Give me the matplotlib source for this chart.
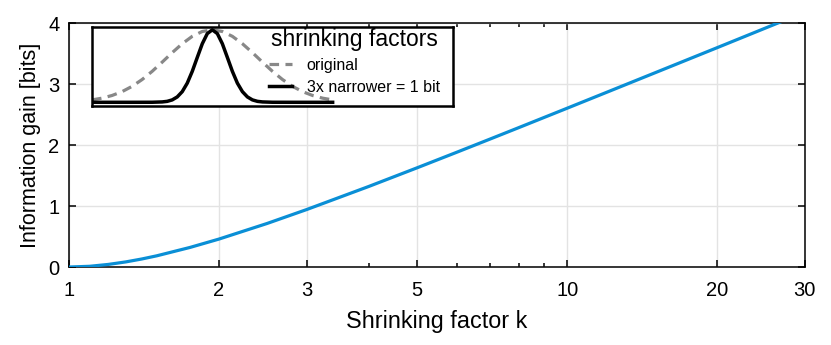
import matplotlib
matplotlib.use('Agg')
import matplotlib.pyplot as plt
from matplotlib.ticker import FixedLocator, NullFormatter

# Main curve: information gain vs shrinking factor
shrink_k = [1, 1.1, 1.2, 1.3, 1.4, 1.5, 1.75, 2, 2.5, 3, 4, 5, 6, 7, 8,
            10, 12, 15, 20, 25, 30]
gain_bits = [0.0, 0.012, 0.043, 0.084, 0.132, 0.184, 0.322, 0.459, 0.716,
             0.944, 1.324, 1.630, 1.884, 2.101, 2.290, 2.608, 2.869, 3.189,
             3.602, 3.924, 4.186]

x_ticks = [1, 2, 3, 5, 10, 20, 30]
x_minor = [4, 6, 7, 8, 9]
y_ticks = [0, 1, 2, 3, 4]

# Inset curves: original bell and 3x narrower bell
bell_x = [-3, -2.75, -2.5, -2.25, -2, -1.75, -1.5, -1.25, -1, -0.75, -0.5,
          -0.25, 0, 0.25, 0.5, 0.75, 1, 1.25, 1.5, 1.75, 2, 2.25, 2.5, 2.75, 3]
orig_y = [0.033, 0.057, 0.094, 0.147, 0.220, 0.314, 0.427, 0.554, 0.685,
          0.808, 0.910, 0.977, 1.0, 0.977, 0.910, 0.808, 0.685, 0.554, 0.427,
          0.314, 0.220, 0.147, 0.094, 0.057, 0.033]
narrow_x = [-3, -2.5, -2, -1.5, -1.25, -1.125, -1, -0.875, -0.75, -0.625,
            -0.5, -0.375, -0.25, -0.125, 0, 0.125, 0.25, 0.375, 0.5, 0.625,
            0.75, 0.875, 1, 1.125, 1.25, 1.5, 2, 2.5, 3]
narrow_y = [0, 0, 0, 0.0005, 0.005, 0.013, 0.033, 0.074, 0.147, 0.264,
            0.427, 0.619, 0.808, 0.948, 1.0, 0.948, 0.808, 0.619, 0.427,
            0.264, 0.147, 0.074, 0.033, 0.013, 0.005, 0.0005, 0, 0, 0]

plt.rcParams['font.family'] = ['Liberation Sans', 'DejaVu Sans']

fig = plt.figure(figsize=(8.31, 3.45), dpi=100)
ax = fig.add_axes([0.083, 0.226, 0.8855, 0.706])

ax.plot(shrink_k, gain_bits, color='#0a8fd6', lw=2.3, zorder=3)
ax.set_xscale('log')
ax.set_xlim(1, 30)
ax.set_ylim(0, 4)
ax.xaxis.set_major_locator(FixedLocator(x_ticks))
ax.xaxis.set_minor_locator(FixedLocator(x_minor))
ax.xaxis.set_minor_formatter(NullFormatter())
ax.set_xticklabels([str(t) for t in x_ticks])
ax.set_yticks(y_ticks)
ax.grid(True, which='major', color='#e3e3e3', lw=1)
ax.set_axisbelow(True)
ax.tick_params(which='both', direction='in', top=True, right=True,
               labelsize=14.5, width=1.1)
ax.tick_params(axis='x', which='both', pad=10)
ax.tick_params(axis='y', which='both', pad=7)
ax.tick_params(which='major', length=5)
ax.tick_params(which='minor', length=3)
for s in ax.spines.values():
    s.set_linewidth(1.1)
ax.set_xlabel('Shrinking factor k', fontsize=16.8, labelpad=7)
ax.set_ylabel('Information gain [bits]', fontsize=15.5, labelpad=5)

# inset with the two bells
ins = fig.add_axes([0.1107, 0.693, 0.4344, 0.229])
ins.plot(bell_x, orig_y, color='#888888', ls='--', lw=2.3, dashes=(3, 2),
         label='original')
ins.plot(narrow_x, narrow_y, color='black', lw=2.5,
         label='3x narrower = 1 bit')
ins.set_xlim(-3, 6)
ins.set_ylim(-0.05, 1.04)
ins.set_xticks([])
ins.set_yticks([])
for s in ins.spines.values():
    s.set_linewidth(1.8)
leg = ins.legend(loc='upper right', bbox_to_anchor=(0.964, 0.99),
                 frameon=False, fontsize=11.5,
                 title='shrinking factors', title_fontsize=16.5,
                 handlelength=1.45, handletextpad=0.9, borderpad=0,
                 borderaxespad=0, labelspacing=0.45)

fig.savefig('out.png', dpi=100)
